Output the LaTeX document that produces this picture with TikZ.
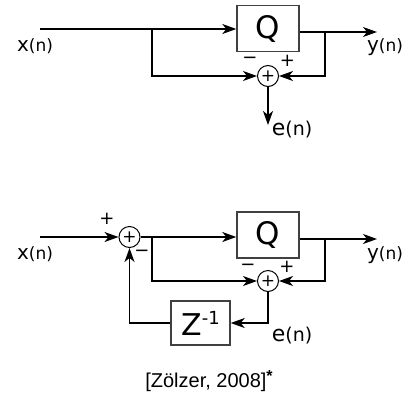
\documentclass[tikz,border=0pt]{standalone}
\usepackage{fontspec}
\setmainfont{DejaVu Sans}
\newfontfamily\citefont{Liberation Sans}
\usetikzlibrary{arrows.meta}
\newcommand{\sig}[2]{{\fontsize{20}{20}\selectfont #1}{\fontsize{17}{17}\selectfont (#2)}}
\begin{document}
\begin{tikzpicture}[x=1pt,y=-1pt,
  line/.style={line width=1.4pt},
  arr/.style={line, -{Stealth[length=14pt,width=10pt,inset=4pt]}},
  block/.style={draw=black!75, line width=1.4pt, minimum width=62pt, minimum height=46pt, inner sep=0pt},
  sum/.style={draw, circle, line width=1pt, minimum size=21pt, inner sep=0pt},
  lbl/.style={inner sep=0pt},
  sgn/.style={inner sep=0pt, font=\fontsize{18}{18}\selectfont}]
\useasboundingbox (0,0) rectangle (411,399);

% ---------- top diagram ----------
\node[block] (q1) at (268,28.5) {\fontsize{31}{31}\selectfont Q};
\node[sum] (s1) at (268,76) {\fontsize{17}{17}\selectfont +};
\coordinate (in1) at (40,29);
\coordinate (b1) at (152,29);
\coordinate (c1) at (325,32);
\coordinate (out1) at (377,32);
\coordinate (e1) at (268,125);

\draw[arr] (in1) -- (q1.west |- in1);
\draw[arr] (b1) |- (s1.west);
\draw[arr] (q1.east |- out1) -- (out1);
\draw[arr] (c1) |- (s1.east);
\draw[arr] (s1.south) -- (e1);

\node[sgn] (m1) at (250,60) {−};
\node[sgn] (p1) at (287.5,60.5) {+};
\node[lbl] (xl1) at (35,46) {\sig{x}{n}};
\node[lbl] (yl1) at (385,47) {\sig{y}{n}};
\node[lbl] (el1) at (292,130) {{\fontsize{22}{22}\selectfont e}{\fontsize{19}{19}\selectfont (n)}};

% ---------- bottom diagram ----------
\node[sum] (s2) at (129.5,237) {\fontsize{17}{17}\selectfont +};
\node[block] (q2) at (268,235) {\fontsize{31}{31}\selectfont Q};
\node[sum] (s3) at (268,281) {\fontsize{17}{17}\selectfont +};
\node[block, minimum width=59pt, minimum height=44pt] (z) at (200.5,323)
  {\fontsize{30}{30}\selectfont Z\raisebox{11pt}{\fontsize{18}{18}\selectfont -1}};
\coordinate (in2) at (40,237);
\coordinate (b2) at (152,237);
\coordinate (c2) at (325,239);
\coordinate (out2) at (377,239);
\coordinate (d) at (268,323);

\draw[arr] (in2) -- (s2.west);
\draw[arr] (s2.east) -- (q2.west |- s2);
\draw[arr] (b2) |- (s3.west);
\draw[arr] (q2.east |- out2) -- (out2);
\draw[arr] (c2) |- (s3.east);
\draw[arr] (s3.south) |- (z.east |- d);
\draw[arr] (z.west) -| (s2.south);

\node[sgn] (p2) at (107,219) {+};
\node[sgn] (m2) at (142,253) {−};
\node[sgn] (m3) at (248,267) {−};
\node[sgn] (p3) at (287,267) {+};
\node[lbl] (xl2) at (35,254) {\sig{x}{n}};
\node[lbl] (yl2) at (385,255) {\sig{y}{n}};
\node[lbl] (el2) at (292,336) {{\fontsize{22}{22}\selectfont e}{\fontsize{19}{19}\selectfont (n)}};

% ---------- citation ----------
\node[lbl] (cite) at (209,381) {\citefont\fontsize{20}{20}\selectfont [Zölzer, 2008]\raisebox{6pt}{\fontsize{16}{16}\selectfont\bfseries *}};
\end{tikzpicture}
\end{document}
